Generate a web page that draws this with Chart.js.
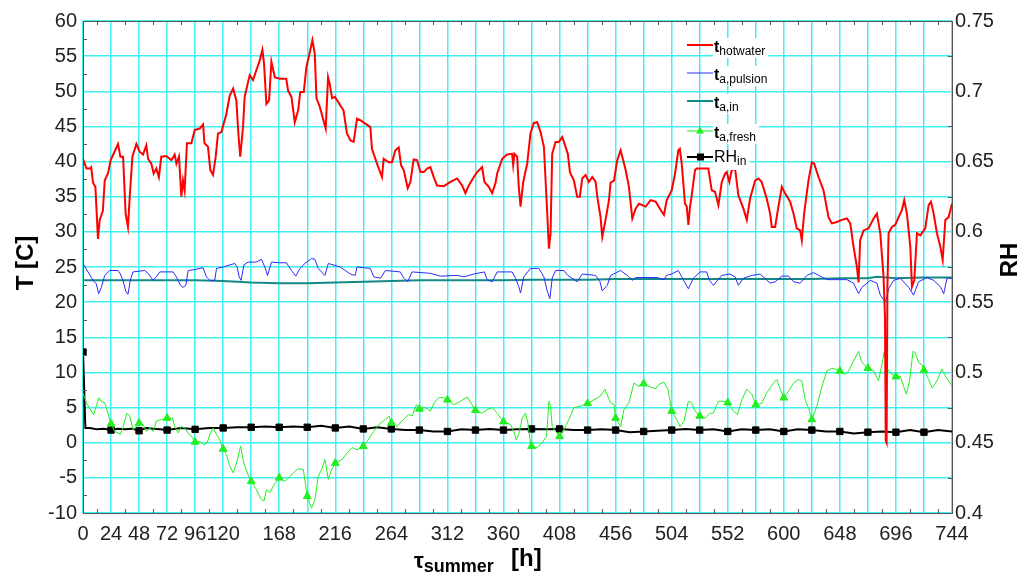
<!DOCTYPE html>
<html lang="en">
<head>
    <meta charset="UTF-8">
    <title>Summer temperatures</title>
    <script src="https://cdn.jsdelivr.net/npm/chart.js"></script>
    <style>
        body { margin: 0; background: #fff; }
        .campo_grafico { position: relative; width: 1019px; height: 575px; }
    </style>
</head>
<body>
    <div class="campo_grafico">
        <canvas id="graficoVerao"></canvas>
    </div>

<script>
    // horas (eixo x) e valores
    const redHours = [0, 3, 6, 7, 8.6, 10.6, 12.8, 14.3, 17, 18.6, 21.4, 23.7, 27, 30, 32, 34.3, 36.5, 38.5, 40, 42.3,
        45.7, 48.5, 51.4, 54.2, 55.7, 58.5, 60.5, 62.8, 65, 67, 71.4, 75.7, 78.5, 80, 82.2, 84.2, 85.6, 87, 89, 92.8,
        95.6, 99.9, 102.8, 104, 107, 109, 111.3, 113.6, 115.6, 118.5, 122.8, 125.6, 128.5, 131.3, 133, 134.6, 137, 138.4,
        142.7, 145.6, 148.4, 151.3, 153.6, 155, 157, 159.3, 161.3, 164.2, 168.4, 174, 175.6, 178.5, 181.3, 184.2, 186,
        189, 191.3, 193.6, 196.4, 198.4, 199.9, 202.7, 205.5, 207.8, 209.8, 211.3, 213.3, 215.6, 218.4, 223, 226, 229,
        231.7, 234.6, 237.4, 241.7, 246, 247.4, 251.7, 256, 257.4, 261.7, 264.6, 267.4, 270.3, 272.3, 274.6, 278, 280.3,
        283.1, 286, 288.9, 291.7, 294.6, 297.4, 300.3, 303.1, 308.9, 314.6, 320.3, 324.6, 327.4, 330.3, 334.6, 337.4,
        341.7, 343.7, 347.4, 350.3, 353.1, 354.6, 358.9, 363.1, 367.4, 368.3, 369.4, 371.7, 373.1, 374.6, 376.9, 380.3,
        383.1, 386, 388.9, 391.7, 394.6, 396.9, 398.9, 400.3, 401.7, 404.6, 407.4, 410.3, 415.1, 416.9, 420.3, 423.1,
        425.4, 427.4, 430.3, 433.1, 436, 438.9, 440.3, 443.1, 444.6, 447.4, 450.3, 451.7, 454.6, 457.4, 460.3, 461.7,
        464.6, 467.4, 470.3, 473.1, 476, 481.7, 486, 490.3, 494.6, 497.4, 499.7, 504, 506.9, 509.7, 511, 512.6, 515.4,
        516.9, 518.3, 519.7, 521, 524, 525.4, 535.4, 538.3, 541.1, 544, 546.9, 549.7, 551.1, 553.4, 555.4, 558.3, 561.1,
        565.4, 568.3, 571.1, 575.4, 578.3, 581.1, 585.4, 588.3, 589.7, 592.6, 594.6, 598.3, 601.1, 605.4, 608.3, 611.1,
        614, 615.4, 617.4, 621.1, 624, 626, 629.7, 634, 638.3, 641.1, 645.4, 649.7, 654, 656.9, 659.7, 662.6, 664, 665.4,
        668.3, 672.6, 676.9, 679.7, 682.6, 685.4, 686.6, 687.3, 688, 688.7, 689.7, 692.6, 695.4, 698.3, 701.1, 703.1,
        705.4, 708.3, 709.7, 711.7, 714, 716.9, 721.1, 724, 726, 728.3, 731.1, 734, 736, 738.3, 741.1, 744];
    const redTemps = [40.4, 39, 39, 39.2, 37, 36.4, 29, 31.7, 33, 37.3, 38.3, 40.2, 41.4, 42.5, 40.7, 40.7, 32.6, 30.7, 35, 40.7,
        42.5, 41.4, 41, 42.3, 40.4, 39.7, 38.3, 39, 37.8, 40.7, 40.8, 40.2, 41, 39.7, 40.7, 35, 37.3, 35.9, 42.6, 42.6,
        44.5, 44.7, 45.3, 42.6, 42.1, 38.8, 38.1, 40.7, 44, 44.2, 46.8, 49.4, 50.4, 48.7, 44, 40.7, 44.9, 49.2,
        52.3, 51.6, 53, 54.4, 55.9, 53.9, 48.2, 48.7, 54.2, 52, 51.8, 51.8, 50.1, 49.2, 45.6, 47.3, 49.9,
        49.9, 53.5, 55.1, 57.3, 55.4, 49, 47.8, 46.1, 44.7, 52, 51, 49, 49.2, 48.5, 47.3, 44, 43,
        42.8, 46.1, 45.9, 45.4, 44.9, 41.8, 39.7, 37.8, 40.4, 39.9, 39.9, 41.6, 42, 39.5, 38.8, 36.2, 37.1,
        40.3, 40.2, 38.5, 38.5, 39, 39.2, 37.8, 36.6, 36.5, 37.1, 37.6, 36.6, 35.5, 36.6, 37.8, 38.5,
        39.2, 37.1, 36.4, 35.5, 36.9, 38.3, 40.4, 41, 41.1, 39.5, 41.1, 40.7, 36.4, 33.6, 37.1, 39.7,
        44, 45.5, 45.6, 44.2, 42.1, 34.5, 27.6, 29.8, 41.1, 42.8, 42.8, 43.5, 41.1, 38.5, 37.3, 35,
        35, 37.6, 38.1, 37.1, 37.8, 37.1, 35, 32.1, 29.3, 31.7, 34.5, 37, 37.3, 40.2, 41.6, 40.7,
        38.8, 36.4, 31.9, 33.3, 34, 33.6, 34.5, 34.3, 33.1, 32.4, 34.5, 35.9, 38.3, 41.6, 41.8, 39.7, 34,
        33.6, 31, 33.6, 35, 38.8, 39, 39, 35.9, 35.7, 33.8, 37.1, 38.3, 38.5, 37.1, 38.8, 39, 35.2,
        33.3, 31.7, 34.7, 37.3, 37.6, 37.1, 34.7, 32.6, 30.7, 30.7, 32.8, 36.4, 35.5, 34.3, 32.6, 30.5,
        30.2, 28.8, 32.6, 37.3, 39.9, 39.7, 37.8, 35.9, 32.1, 31.2, 31.4, 31.7, 31.9, 31.2, 27.9, 25, 22.8, 28.8,
        30.2, 30.5, 31.9, 32.6, 29.8, 23.6, 18, 0.3, 0, 22, 29.8, 30.7, 31, 32.1, 33.1, 34.5,
        32.6, 27.9, 22.2, 23.1, 29.8, 29.5, 30.5, 33.8, 34.3, 32.6, 29.8, 27.9, 26, 31.7, 32.1, 34];

    const pulsionHours = [0, 4.3, 8.6, 11.4, 13.4, 15.7, 18.6, 22.8, 30, 32, 34.3, 36.5, 38.5, 40.5, 42.8, 52.8, 55.7, 60,
        62.8, 65.7, 77.1, 80, 83.4, 85.7, 88, 90, 94.3, 102.8, 105.7, 108.6, 112.8, 114.3, 120, 125.7, 130, 132, 133.7,
        135.4, 137.7, 141.4, 148.5, 152.8, 155.7, 158, 161.4, 168.5, 174.2, 178.5, 182.2, 185.7, 190, 195.7, 198.5, 201.4,
        207.1, 210, 220.3, 224.6, 228.9, 233.1, 234.6, 246, 248.9, 254.6, 258.9, 271.7, 274.6, 278, 281.7, 297.4, 306,
        320.3, 326, 334.6, 343.7, 346, 350.3, 354.6, 367.4, 370.3, 373.1, 374.6, 377.4, 383.1, 390.3, 394.6, 397.4, 399.7,
        401.7, 404.6, 411.7, 415.1, 423.1, 427.4, 438.9, 442.6, 444.6, 448.9, 451.7, 460.3, 466, 470.3, 473.1, 491.7,
        497.4, 499.7, 504, 509.7, 512.6, 518.3, 522.6, 528.3, 534, 536.3, 539.7, 546.9, 554, 558.3, 561.1, 565.4, 572.6,
        579.7, 588.3, 592.6, 598.3, 604, 608.3, 614, 619.7, 625.4, 631.1, 636.9, 654, 659.7, 664, 666.9, 674, 679.7, 682.6,
        687, 690, 694, 699.7, 706.9, 711.1, 715.4, 722.6, 728.3, 734, 736.9, 739.7, 744];
    const pulsionTemps = [25.5, 24.3, 23.1, 22.6, 21.2, 22.1, 23.8, 24.5, 24.5, 24, 23.1, 21.6, 21.1, 23.1, 24.3, 24.5, 24.1, 23.1,
        23.6, 24.3, 24.3, 23.6, 22.4, 22.1, 22.4, 24.5, 24.6, 24.9, 23.6, 23.1, 23.1, 24.8, 25, 25.3, 25.5, 25, 23.6,
        23.1, 25.3, 25.7, 25.7, 26.1, 25, 23.8, 25.7, 25.6, 25.6, 24.5, 23.7, 24.8, 25.5, 26.2, 26.1, 24.8,
        23.8, 25.5, 25, 24.5, 24, 23.8, 25, 24.8, 23.6, 23.4, 24.5, 24.3, 23.4, 22.9, 24.3, 24.1, 23.7,
        23.8, 23.6, 24, 24.3, 23.2, 22.9, 24.3, 24.3, 23.4, 22.2, 21.3, 23.6, 24.8, 24.8, 23.6, 21.6, 20.5,
        23.4, 24.5, 24.5, 23.8, 22.9, 24, 23.8, 22.9, 21.6, 22.4, 23.8, 24.5, 23.8, 23.1, 23.5, 23.5,
        23.2, 23.8, 24, 24.5, 23.6, 21.9, 23.4, 24.3, 24.3, 23.1, 22.4, 23.8, 24, 23.6, 22.4, 23.4, 23.8,
        24, 22.7, 22.9, 23.7, 23.7, 22.9, 22.7, 23.8, 24.2, 23.7, 23.2, 23.2, 22.7, 21.2, 22.1, 23.1, 22.7, 21,
        20, 22, 23.1, 23.4, 22.1, 21, 22.9, 23.5, 23.1, 22.2, 21.2, 23.4, 23.4];

    const inHours = [0, 24, 48, 72, 96, 120, 144, 168, 192, 216, 240, 264, 288, 312, 336, 360, 384, 408, 432, 456, 480,
        504, 528, 552, 576, 600, 624, 648, 672, 680, 696, 720, 744];
    const inTemps = [23.1, 23.1, 23.1, 23.1, 23.1, 23.0, 22.8, 22.7, 22.7, 22.8, 22.9, 23.0, 23.1, 23.1, 23.1, 23.1, 23.2,
        23.2, 23.2, 23.3, 23.3, 23.3, 23.3, 23.3, 23.3, 23.3, 23.3, 23.4, 23.4, 23.6, 23.4, 23.5, 23.5];

    const freshHours = [0, 2.9, 7.1, 9.1, 11.4, 13.7, 15.7, 18.6, 21.4, 24, 27.1, 30, 32, 34.3, 37.7, 40, 42.9, 45.7, 48,
        51.4, 54.3, 57.1, 60, 62.9, 67.1, 72, 76.6, 78.6, 81.4, 84.3, 87.1, 90, 92.9, 96, 100, 103.4, 106.3, 108.6, 111.4,
        114.3, 117.1, 120, 122.9, 125.7, 128.6, 131.4, 134.9, 137.7, 140.6, 144, 148.6, 152, 154.9, 157.1, 160, 162.9,
        165.7, 168, 172.9, 177.1, 181.4, 184.3, 188.6, 192, 195.7, 198.6, 201.4, 204.3, 207.1, 210, 212.9, 216, 221.7,
        226, 230.3, 234.6, 240, 244.6, 248.9, 254.6, 258.9, 262, 264, 268.9, 273.1, 278.9, 281.7, 285.4, 288, 293.1,
        297.4, 300.9, 304.6, 308.9, 312, 317.4, 323.1, 328.9, 333.1, 336, 341.7, 346, 350.3, 354.6, 357.4, 360, 366,
        368.9, 370.9, 373.1, 376, 378.9, 380.9, 383, 384, 388.9, 393.1, 396.9, 398.9, 400.3, 401.7, 404.6, 408, 411.7,
        416, 420.3, 426, 432, 437.4, 442.6, 446.9, 451.7, 454.6, 456, 460.3, 463.1, 467.4, 471.7, 476, 480, 486, 490.3,
        493.1, 497.4, 500.9, 504, 508.3, 511.1, 514.6, 518.3, 521.1, 524, 528, 532.6, 536.9, 539.7, 544, 548.3, 552,
        556.9, 560.3, 564, 568.3, 572.6, 576, 581.1, 585.4, 591.1, 594, 596.9, 600, 604, 608.3, 612.6, 615.4, 618.3,
        621.7, 624, 628.3, 632.6, 636.9, 641.1, 644.9, 648, 652.6, 655.4, 659.7, 664, 666.9, 669.7, 672, 676.9, 681.1,
        684, 686, 688.3, 691.1, 696, 699.7, 702.6, 704.9, 707.7, 710.6, 712.6, 715.4, 718.3, 720, 724, 726.9, 731.1,
        735.4, 738.3, 744];
    const freshTemps = [7.1, 5.7, 4.5, 4, 5.2, 6.4, 5.9, 5.7, 4.2, 2.7, 1.6, 1.4, 1.2, 2.3, 4.2, 3.8, 1.9, 2.3, 2.8,
        2.6, 1.6, 2.1, 1.6, 3.1, 3.3, 3.5, 3.5, 2.3, 1.4, 2.3, 2.1, 1.4, 0.9, 0.1, 0.2, -0.3, 0, 1.2, 2.1,
        1.2, 0.4, -0.9, -1.7, -3.4, -4.3, -2.9, -0.5, -2.9, -4.3, -5.5, -6.7, -7.9, -8.3, -6.7, -7.1, -6.2,
        -5.5, -5, -5.5, -4.8, -4.1, -3.7, -3.8, -7.6, -9.3, -8.1, -4.8, -3.8, -2.4, -5.2, -3.8, -2.9, -2.4,
        -1.5, -0.7, -1, -0.5, 0.5, 1.6, 2.8, 3.3, 3.8, 2.8, 2.3, 3.1, 4, 3.8, 5.4, 4.8, 5,
        4.5, 5.7, 6.4, 6.4, 6.1, 5.4, 5.9, 6.5, 5.4, 4.6, 4.2, 4.7, 5, 4.2, 3.5, 3, 2.6,
        1.6, 0.4, 1.2, 3.5, 4.2, 2.8, 0, -0.5, -0.7, 0, 0.9, 5.9, 5.2, 2.3, 1.6, 0.9, 1.9,
        3.3, 5, 5.2, 5.6, 6.1, 6.6, 7.6, 5.7, 5.4, 3.5, 2.3, 4.7, 5.7, 8.5, 8, 8.4, 7.9, 7.7,
        8.3, 8.6, 7.6, 4.5, 3.3, 2.3, 3.1, 5.9, 5.7, 4.5, 3.8, 3.5, 4.2, 4.2, 5.9, 5.9, 5.7,
        4.5, 4, 6.1, 7.6, 6.9, 5.4, 5.6, 7.1, 8.5, 9, 7.6, 6.4, 7.3, 8.5, 9, 8.8, 6.1,
        4.7, 3.3, 5.2, 8, 10.2, 10.6, 10.4, 10.2, 9.7, 10.2, 11.6, 13, 11.4, 11, 10.6, 10.2, 8.8,
        11.1, 13, 10.6, 9.9, 9.4, 9.5, 8, 6.9, 8.8, 13, 12.8, 11.4, 11.1, 10.3, 9, 7.8, 8.8,
        10.5, 9.5, 8.1];

    const rhHours = [0, 1, 2, 6, 12, 18, 24, 30, 36, 42, 48, 54, 60, 66, 72, 84, 96, 108, 120, 132, 144, 156, 168, 180,
        192, 204, 216, 228, 240, 252, 264, 276, 288, 300, 312, 324, 336, 348, 360, 372, 384, 396, 408, 420, 432, 444, 456,
        468, 480, 492, 504, 516, 528, 540, 552, 564, 576, 588, 600, 612, 624, 636, 648, 660, 672, 684, 696, 708, 720, 732, 744];
    const rhValues = [0.5145, 0.489, 0.4605, 0.4605, 0.4595, 0.46, 0.459, 0.46, 0.4595, 0.46, 0.4585, 0.4605, 0.46, 0.4595,
        0.459, 0.4605, 0.4595, 0.4605, 0.4605, 0.461, 0.461, 0.4615, 0.461, 0.4615, 0.461, 0.462, 0.4605, 0.4615, 0.4598,
        0.461, 0.4598, 0.459, 0.459, 0.458, 0.458, 0.4595, 0.459, 0.4598, 0.459, 0.4595, 0.4598, 0.4595, 0.4598, 0.459,
        0.459, 0.4595, 0.459, 0.4575, 0.458, 0.4585, 0.459, 0.4598, 0.459, 0.4595, 0.458, 0.4595, 0.459, 0.4595, 0.458,
        0.4595, 0.459, 0.458, 0.458, 0.4565, 0.4575, 0.458, 0.4575, 0.459, 0.4575, 0.459, 0.458];

    // rótulos do eixo x (as outras linhas da grade ficam sem texto)
    const xLabelHours = [0, 24, 48, 72, 96, 120, 168, 216, 264, 312, 360, 408, 456, 504, 552, 600, 648, 696, 744];

    const fonteBase = '"Liberation Sans", Arial, sans-serif';
    const corGrade = '#40f0f0';
    const corEixo = '#555';

    function pontos(xs, ys) {
        return xs.map(function (x, i) { return { x: x, y: ys[i] }; });
    }

    // marcador a cada 24 h
    function marcadorDiario(inicio) {
        return function (ctx) {
            const x = ctx.raw ? ctx.raw.x : -1;
            return (x >= inicio && x <= 720 && x % 24 === 0) ? 4.5 : 0;
        };
    }

    const legenda = [
        { txt: 't', sub: 'hotwater', cor: '#ff0000', largura: 2, y: 45 },
        { txt: 't', sub: 'a,pulsion', cor: '#2a2aff', largura: 1, y: 73 },
        { txt: 't', sub: 'a,in', cor: '#148a88', largura: 2, y: 101 },
        { txt: 't', sub: 'a,fresh', cor: '#22ee22', largura: 1, y: 131, marca: 'triangulo' },
        { txt: 'RH', sub: 'in', cor: '#000000', largura: 2, y: 157, marca: 'quadrado' }
    ];

    const desenhosExtras = {
        id: 'desenhosExtras',
        afterDraw: function (chart) {
            const ctx = chart.ctx;
            const area = chart.chartArea;
            const x = chart.scales.x;
            const y = chart.scales.y;
            const y2 = chart.scales.y2;
            ctx.save();

            // moldura de cima e marcas menores
            ctx.strokeStyle = corEixo;
            ctx.lineWidth = 1;
            ctx.beginPath();
            ctx.moveTo(area.left, area.top + 0.5);
            ctx.lineTo(area.right, area.top + 0.5);
            for (let h = 12; h < 744; h += 24) {
                const px = Math.round(x.getPixelForValue(h)) + 0.5;
                ctx.moveTo(px, area.bottom); ctx.lineTo(px, area.bottom - 4);
                ctx.moveTo(px, area.top); ctx.lineTo(px, area.top + 4);
            }
            for (let v = -7.5; v < 60; v += 5) {
                const py = Math.round(y.getPixelForValue(v)) + 0.5;
                ctx.moveTo(area.left, py); ctx.lineTo(area.left + 4, py);
            }
            for (let v = 0.425; v < 0.75; v += 0.05) {
                const py = Math.round(y2.getPixelForValue(v)) + 0.5;
                ctx.moveTo(area.right, py); ctx.lineTo(area.right - 4, py);
            }
            ctx.stroke();

            // legenda com subscritos
            legenda.forEach(function (item) {
                const xTexto = 714;
                const principal = item.txt === 'RH' ? '16px ' + fonteBase : 'bold 16px ' + fonteBase;
                const base = item.txt === 'RH' ? item.y + 5 : item.y + 7;
                ctx.font = principal;
                const w1 = ctx.measureText(item.txt).width;
                ctx.font = '12px ' + fonteBase;
                const w2 = ctx.measureText(item.sub).width;
                ctx.fillStyle = '#fff';
                ctx.fillRect(xTexto - 1, item.y - 7, w1 + w2 + 4, 20);

                ctx.strokeStyle = item.cor;
                ctx.lineWidth = item.largura;
                ctx.beginPath();
                ctx.moveTo(687, item.y);
                ctx.lineTo(713, item.y);
                ctx.stroke();
                ctx.fillStyle = item.cor;
                if (item.marca === 'triangulo') {
                    ctx.beginPath();
                    ctx.moveTo(700, item.y - 4.5);
                    ctx.lineTo(704, item.y + 2.5);
                    ctx.lineTo(696, item.y + 2.5);
                    ctx.closePath();
                    ctx.fill();
                } else if (item.marca === 'quadrado') {
                    ctx.fillRect(697, item.y - 3.5, 7, 7);
                }

                ctx.fillStyle = '#000';
                ctx.textAlign = 'left';
                ctx.textBaseline = 'alphabetic';
                ctx.font = principal;
                ctx.fillText(item.txt, xTexto, base);
                ctx.font = '12px ' + fonteBase;
                ctx.fillText(item.sub, xTexto + w1, base + 3);
            });

            // títulos dos eixos
            ctx.fillStyle = '#000';
            ctx.textAlign = 'center';
            ctx.font = 'bold 24px ' + fonteBase;
            ctx.save();
            ctx.translate(33, 263);
            ctx.rotate(-Math.PI / 2);
            ctx.fillText('T [C]', 0, 0);
            ctx.restore();
            ctx.save();
            ctx.translate(1017, 260);
            ctx.rotate(-Math.PI / 2);
            ctx.fillText('RH', 0, 0);
            ctx.restore();

            ctx.textAlign = 'left';
            ctx.font = 'bold 22px ' + fonteBase;
            ctx.fillText('τ', 414, 568);
            const wTau = ctx.measureText('τ').width;
            ctx.font = 'bold 18px ' + fonteBase;
            ctx.fillText('summer', 414 + wTau, 572);
            ctx.font = 'bold 24px ' + fonteBase;
            ctx.fillText('[h]', 511, 566);
            ctx.restore();
        }
    };

    const ctxGrafico = document.getElementById('graficoVerao');

    new Chart(ctxGrafico, {
        type: 'line',
        data: {
            datasets: [{
                label: 't hotwater',
                data: pontos(redHours, redTemps),
                borderColor: '#ff0000',
                borderWidth: 2,
                pointRadius: 0,
                yAxisID: 'y'
            }, {
                label: 't a,pulsion',
                data: pontos(pulsionHours, pulsionTemps),
                borderColor: '#2a2aff',
                borderWidth: 1,
                pointRadius: 0,
                yAxisID: 'y'
            }, {
                label: 't a,in',
                data: pontos(inHours, inTemps),
                borderColor: '#148a88',
                borderWidth: 2,
                pointRadius: 0,
                yAxisID: 'y'
            }, {
                label: 't a,fresh',
                data: pontos(freshHours, freshTemps),
                borderColor: '#22ee22',
                backgroundColor: '#22ee22',
                borderWidth: 1,
                pointStyle: 'triangle',
                pointRadius: marcadorDiario(24),
                pointBorderWidth: 1,
                yAxisID: 'y'
            }, {
                label: 'RH in',
                data: pontos(rhHours, rhValues),
                borderColor: '#000000',
                backgroundColor: '#000000',
                borderWidth: 2,
                pointStyle: 'rect',
                pointRadius: marcadorDiario(0),
                pointBorderWidth: 1,
                yAxisID: 'y2'
            }]
        },
        options: {
            responsive: true,
            maintainAspectRatio: false,
            animation: false,
            layout: { padding: { top: 21, left: 0, right: 0, bottom: 0 } },
            plugins: {
                legend: { display: false },
                tooltip: { enabled: false }
            },
            scales: {
                x: {
                    type: 'linear',
                    min: 0,
                    max: 744,
                    afterFit: function (scale) { scale.height = 62; },
                    grid: { color: corGrade, lineWidth: 1.5, drawTicks: false },
                    border: { color: corEixo, width: 1 },
                    ticks: {
                        stepSize: 24,
                        autoSkip: false,
                        maxRotation: 0,
                        padding: 9,
                        color: '#222',
                        font: { family: fonteBase, size: 20 },
                        callback: function (valor) {
                            return xLabelHours.includes(valor) ? String(valor) : '';
                        }
                    }
                },
                y: {
                    position: 'left',
                    min: -10,
                    max: 60,
                    afterFit: function (scale) { scale.width = 83; },
                    grid: { color: corGrade, lineWidth: 1.5, drawTicks: false },
                    border: { color: corEixo, width: 1 },
                    ticks: {
                        stepSize: 5,
                        padding: 6,
                        color: '#222',
                        font: { family: fonteBase, size: 20 }
                    }
                },
                y2: {
                    position: 'right',
                    min: 0.4,
                    max: 0.75,
                    afterFit: function (scale) { scale.width = 67; },
                    grid: { display: false, drawTicks: false },
                    border: { color: corEixo, width: 1 },
                    ticks: {
                        stepSize: 0.05,
                        padding: 3,
                        color: '#222',
                        font: { family: fonteBase, size: 20 },
                        callback: function (valor) { return String(+valor.toFixed(2)); }
                    }
                }
            }
        },
        plugins: [desenhosExtras]
    });
</script>
</body>
</html>
